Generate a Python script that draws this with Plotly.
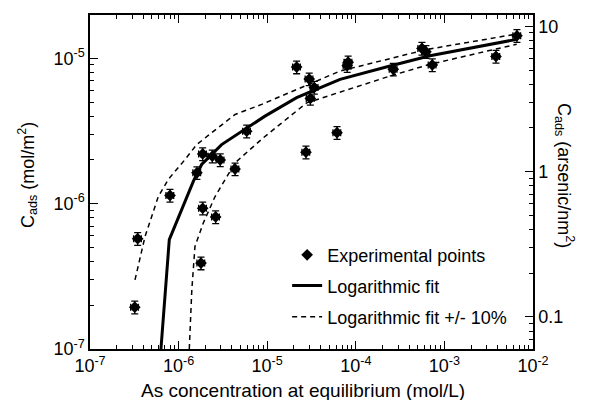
import plotly.graph_objects as go
import math

# ---- Experimental points (mol/L, mol/m2) ----
conc = [3.45e-7, 3.2e-7, 8.0e-7, 1.61e-6, 1.87e-6, 2.4e-6, 2.95e-6, 4.34e-6,
        5.87e-6, 1.87e-6, 2.62e-6, 1.79e-6, 2.15e-5, 2.98e-5, 3.4e-5, 3.07e-5,
        8.2e-5, 8.0e-5, 6.14e-5, 2.74e-5, 2.65e-4, 5.58e-4, 6.19e-4, 7.3e-4,
        3.82e-3, 6.59e-3]
cads = [5.74e-7, 1.94e-7, 1.14e-6, 1.63e-6, 2.2e-6, 2.12e-6, 2.0e-6, 1.73e-6,
        3.15e-6, 9.3e-7, 8.1e-7, 3.9e-7, 8.7e-6, 7.2e-6, 6.3e-6, 5.3e-6,
        9.4e-6, 8.9e-6, 3.08e-6, 2.26e-6, 8.4e-6, 1.17e-5, 1.11e-5, 9.0e-6,
        1.03e-5, 1.43e-5]
err_y_pct = [16, 16, 16, 16, 16, 16, 16, 16,
             13, 16, 16, 16, 11, 11, 11, 11,
             11, 11, 11, 11, 11, 11, 11, 11,
             11, 11]
err_x_pct = [16, 16, 16, 14, 14, 14, 12, 12,
             10, 14, 14, 14, 8, 8, 8, 8,
             8, 8, 8, 8, 8, 8, 8, 8,
             8, 8]

# ---- Logarithmic fit ----
fit_x = [6.32e-7, 7.85e-7, 1.47e-6, 1.82e-6, 3.06e-6, 5.87e-6, 9.44e-6,
         2.15e-5, 6.64e-5, 2.43e-4, 6.87e-4, 6.55e-3]
fit_y = [1.0e-7, 5.65e-7, 1.43e-6, 1.86e-6, 2.55e-6, 3.33e-6, 4.0e-6,
         5.36e-6, 7.17e-6, 8.85e-6, 1.04e-5, 1.35e-5]

# ---- Fit +10% ----
up_x = [3.22e-7, 4.18e-7, 5.9e-7, 7.66e-7, 1.18e-6, 1.6e-6, 2.37e-6, 4.34e-6,
        8.67e-6, 1.97e-5, 6.64e-5, 6.31e-4, 6.55e-3]
up_y = [2.99e-7, 5.94e-7, 1.12e-6, 1.47e-6, 2.01e-6, 2.55e-6, 3.08e-6, 4.11e-6,
        4.82e-6, 5.95e-6, 8.17e-6, 1.15e-5, 1.47e-5]

# ---- Fit -10% ----
lo_x = [1.32e-6, 1.41e-6, 1.53e-6, 1.9e-6, 2.58e-6, 4.34e-6, 9.04e-6,
        2.79e-5, 2.43e-4, 6.87e-4, 6.55e-3]
lo_y = [1.0e-7, 2.55e-7, 5.08e-7, 7.36e-7, 1.12e-6, 1.91e-6, 2.84e-6,
        4.94e-6, 7.55e-6, 9.09e-6, 1.25e-5]

# Axis ranges / ticks
x_range = [-7, -2]
y_range = [-7, -4.702]
sites_per_molm2 = 6.022e5  # mol/m2 -> arsenic/nm2
x_major = [1e-7, 1e-6, 1e-5, 1e-4, 1e-3, 1e-2]
x_major_text = ["10<sup>-7</sup>", "10<sup>-6</sup>", "10<sup>-5</sup>",
                "10<sup>-4</sup>", "10<sup>-3</sup>", "10<sup>-2</sup>"]
y_major = [1e-7, 1e-6, 1e-5]
y_major_text = ["10<sup>-7</sup>", "10<sup>-6</sup>", "10<sup>-5</sup>"]
y2_major = [0.1, 1, 10]
y2_major_text = ["0.1", "1", "10"]

x_minor = [m * 10 ** e for e in range(-7, -2) for m in range(2, 10)]
y_minor = [m * 10 ** e for e in range(-7, -4) for m in range(2, 10)]
y2_minor = [m * 10 ** e for e in range(-2, 2) for m in range(2, 10)]

FONT = "Liberation Sans, Arial, sans-serif"
FS = 18
fig = go.Figure()

fig.add_trace(go.Scatter(
    x=fit_x, y=fit_y, mode="lines", name="Logarithmic fit",
    line=dict(color="black", width=3), legend="legend2"))
fig.add_trace(go.Scatter(
    x=up_x, y=up_y, mode="lines", name="Logarithmic fit +/- 10%",
    line=dict(color="black", width=1.5, dash="5px,4px"), legend="legend3"))
fig.add_trace(go.Scatter(
    x=lo_x, y=lo_y, mode="lines", showlegend=False,
    line=dict(color="black", width=1.5, dash="5px,4px")))
fig.add_trace(go.Scatter(
    x=conc, y=cads, mode="markers", name="Experimental points",
    marker=dict(symbol="diamond", size=9, color="black"),
    error_y=dict(type="percent", array=err_y_pct, visible=True,
                 color="black", thickness=1.3, width=3.5),
    error_x=dict(type="percent", array=err_x_pct, visible=True,
                 color="black", thickness=1.3, width=3.5),
    legend="legend"))
# invisible trace on right axis so it is drawn
fig.add_trace(go.Scatter(x=[conc[0]], y=[cads[0] * sites_per_molm2], yaxis="y2",
                         mode="markers", marker=dict(opacity=0),
                         showlegend=False, hoverinfo="skip"))

tickfont = dict(family=FONT, size=FS, color="black")
fig.update_layout(
    width=592, height=400,
    margin=dict(l=90, r=59, t=15, b=51),
    paper_bgcolor="white", plot_bgcolor="white",
    font=dict(family=FONT, size=FS, color="black"),
    xaxis=dict(type="log", range=x_range, tickvals=x_major, ticktext=x_major_text,
               ticks="inside", ticklen=8, tickwidth=1.3, tickcolor="black",
               showline=True, linecolor="black", linewidth=1.5, mirror="ticks",
               showgrid=False, zeroline=False, tickfont=tickfont,
               minor=dict(tickvals=x_minor, ticks="inside", ticklen=4,
                          tickwidth=1, tickcolor="black", showgrid=False)),
    yaxis=dict(type="log", range=y_range, tickvals=y_major, ticktext=y_major_text,
               ticks="inside", ticklen=8, tickwidth=1.3, tickcolor="black",
               showline=True, linecolor="black", linewidth=1.5, mirror=False,
               showgrid=False, zeroline=False, tickfont=tickfont,
               minor=dict(tickvals=y_minor, ticks="inside", ticklen=4,
                          tickwidth=1, tickcolor="black", showgrid=False)),
    yaxis2=dict(type="log", overlaying="y", side="right", anchor="x",
                range=[y_range[0] + math.log10(sites_per_molm2),
                       y_range[1] + math.log10(sites_per_molm2)],
                tickvals=y2_major, ticktext=y2_major_text,
                ticks="inside", ticklen=8, tickwidth=1.3, tickcolor="black",
                showline=True, linecolor="black", linewidth=1.5,
                showgrid=False, zeroline=False, tickfont=tickfont,
                minor=dict(tickvals=y2_minor, ticks="inside", ticklen=4,
                           tickwidth=1, tickcolor="black", showgrid=False)),
    legend=dict(x=0.445, y=0.281, xanchor="left", yanchor="middle",
                bgcolor="rgba(0,0,0,0)", font=dict(family=FONT, size=FS)),
    legend2=dict(x=0.445, y=0.189, xanchor="left", yanchor="middle",
                 bgcolor="rgba(0,0,0,0)", font=dict(family=FONT, size=FS)),
    legend3=dict(x=0.445, y=0.096, xanchor="left", yanchor="middle",
                 bgcolor="rgba(0,0,0,0)", font=dict(family=FONT, size=FS)),
    annotations=[
        dict(text="C<sub>ads</sub> (arsenic/nm<sup>2</sup>)",
             xref="paper", yref="paper", x=1.0, y=0.521, xanchor="center",
             yanchor="middle", xshift=31, textangle=90, showarrow=False,
             font=dict(family=FONT, size=FS)),
        dict(text="C<sub>ads</sub> (mol/m<sup>2</sup>)",
             xref="paper", yref="paper", x=0.0, y=0.521, xanchor="center",
             yanchor="middle", xshift=-62, textangle=-90, showarrow=False,
             font=dict(family=FONT, size=FS)),
        dict(text="As concentration at equilibrium (mol/L)",
             xref="paper", yref="paper", x=0.481, y=0.0, xanchor="center",
             yanchor="middle", yshift=-41, showarrow=False,
             font=dict(family=FONT, size=19)),
    ],
)

fig.write_html("out.html")
